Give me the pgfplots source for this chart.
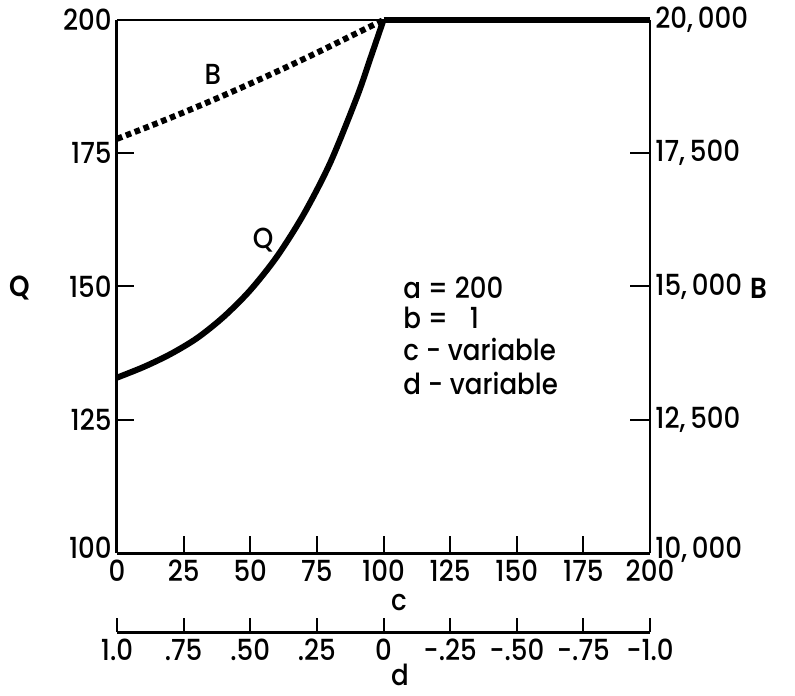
\documentclass[border=0pt]{standalone}
\usepackage{fontspec}
\setmainfont{Poppins}[UprightFont={* Medium}, BoldFont={* SemiBold}, FakeStretch=0.9]
\usepackage{pgfplots}
\usepackage{pgfplotstable}
\pgfplotsset{compat=1.18}

% Q (left axis) against c
\pgfplotstableread{
c Q
0 132.9
10 134.9
20 137.3
30 140.3
40 144.3
50 149.3
60 155.6
70 163.5
80 173.2
90 185.5
95 192.7
100 200
}\qcurve

% B (right axis) against c
\pgfplotstableread{
c B
0 17770
12.5 18013
25 18266
37.5 18530
50 18805
62.5 19090
75 19386
87.5 19693
100 20000
}\bcurve

\newcommand\lab{\fontsize{14.5}{17}\selectfont}

\begin{document}
\begin{tikzpicture}
\useasboundingbox (-58.5pt,-71pt) rectangle (339pt,276.5pt);
\pgfplotsset{every axis/.append style={
  scale only axis, width=266.5pt, height=266.5pt,
  xmin=0, xmax=200, tick align=inside,
  tick style={line width=1pt, black},
  tick label style={font=\lab},
  scaled ticks=false,
  /pgf/number format/assume math mode=true}}

% left / bottom axes with Q
\begin{axis}[axis x line*=bottom, axis y line*=left,
  axis line style={-, line width=1.5pt},
  ymin=100, ymax=200,
  xtick={0,25,...,200}, ytick={100,125,...,200},
  yticklabels={\raisebox{5pt}{100},125,150,175,200},
  yticklabel style={inner sep=2.5pt},
  major tick length=8.5pt, clip=false]
\addplot[line width=3pt, smooth, tension=0.5] table[x=c, y=Q] {\qcurve};
\addplot[line width=3pt] coordinates {(100,200) (200,200)};
\node[font=\lab] at (axis cs:54.8,158.7) {Q};
\node[font=\lab] at (axis cs:36,189.7) {B};
\node[font=\lab\bfseries] at (axis cs:-36.4,149.7) {Q};
\node[font=\lab\bfseries] at (axis cs:241,149.7) {B};
\node[font=\lab] at (axis cs:105.8,90.8) {c};
\node[font=\lab] at (axis cs:106.2,77.2) {d};
\begin{scope}[every node/.style={font=\lab, anchor=west, inner sep=0pt}]
\node at (axis cs:107.3,149.7) {a = 200};
\node at (axis cs:107.3,144.1) {b = \hphantom{2}1};
\node at (axis cs:107.3,138.1) {c - variable};
\node at (axis cs:107.3,131.9) {d - variable};
\end{scope}
\end{axis}

% top / right axes with B
\begin{axis}[axis x line*=top, axis y line*=right,
  axis line style={-, line width=1pt},
  ymin=10000, ymax=20000, xtick=\empty,
  ytick={10000,12500,...,20000},
  yticklabels={{\raisebox{5pt}{10,\,000}},{12,\,500},{15,\,000},{17,\,500},{\raisebox{2pt}{20,\,000}}},
  yticklabel style={inner sep=2.5pt},
  major tick length=10pt, clip=false]
\addplot[line width=3pt, smooth, dash pattern=on 2.8pt off 1.95pt] table[x=c, y=B] {\bcurve};
\end{axis}

% second scale for d below
\begin{axis}[at={(0,-39.5pt)}, height=1pt, hide y axis,
  axis x line*=bottom, axis line style={-, line width=1.5pt},
  ymin=0, ymax=1,
  xtick={0,25,...,200},
  xticklabels={1.0,.75,.50,.25,0,-.25,-.50,-.75,-1.0},
  major tick length=7pt]
\addplot[draw=none] coordinates {(0,0)};
\end{axis}
\end{tikzpicture}
\end{document}
